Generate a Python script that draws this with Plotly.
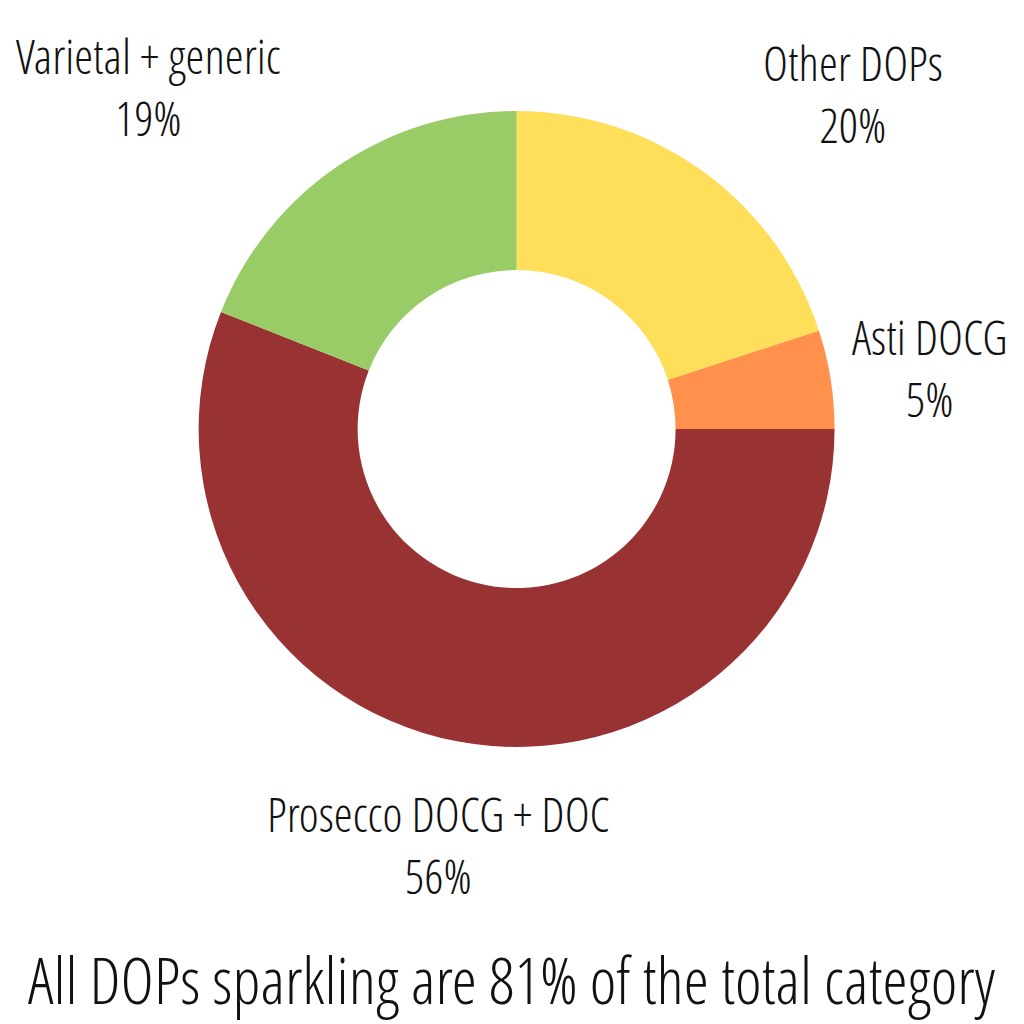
import plotly.graph_objects as go

labels = ["Other DOPs", "Asti DOCG", "Prosecco DOCG + DOC", "Varietal + generic"]
values = [20, 5, 56, 19]
colors = ["#FFDE59", "#FF914D", "#993333", "#99CC66"]
title_text = "All DOPs sparkling are 81% of the total category"

# label anchor positions (paper coords) for outside labels
label_pos = [(0.833, 0.909), (0.908, 0.641), (0.428, 0.175), (0.145, 0.916)]

FONT = "Open Sans Condensed Light, Liberation Sans Narrow, DejaVu Sans Condensed, sans-serif"

fig = go.Figure(go.Pie(
    labels=labels, values=values,
    marker=dict(colors=colors, line=dict(width=0)),
    hole=0.5, sort=False, direction="clockwise", rotation=0,
    textinfo="none", hoverinfo="label+percent",
    domain=dict(x=[0.194, 0.815], y=[0.2705, 0.8916]),
    showlegend=False,
))

annotations = []
for lab, v, (px, py) in zip(labels, values, label_pos):
    pct = round(100 * v / sum(values))
    annotations.append(dict(
        x=px, y=py, xref="paper", yref="paper", showarrow=False,
        text=f"{lab}<br>{pct}%", align="center",
        font=dict(family=FONT, size=48, color="#111111"),
        xanchor="center", yanchor="middle",
    ))
annotations.append(dict(
    x=0.5, y=0.043, xref="paper", yref="paper", showarrow=False,
    text=title_text, font=dict(family=FONT, size=64, color="#111111"),
    xanchor="center", yanchor="middle",
))

fig.update_layout(
    width=1024, height=1024,
    margin=dict(l=0, r=0, t=0, b=0),
    paper_bgcolor="white", plot_bgcolor="white",
    annotations=annotations,
)
fig.write_html("out.html")
